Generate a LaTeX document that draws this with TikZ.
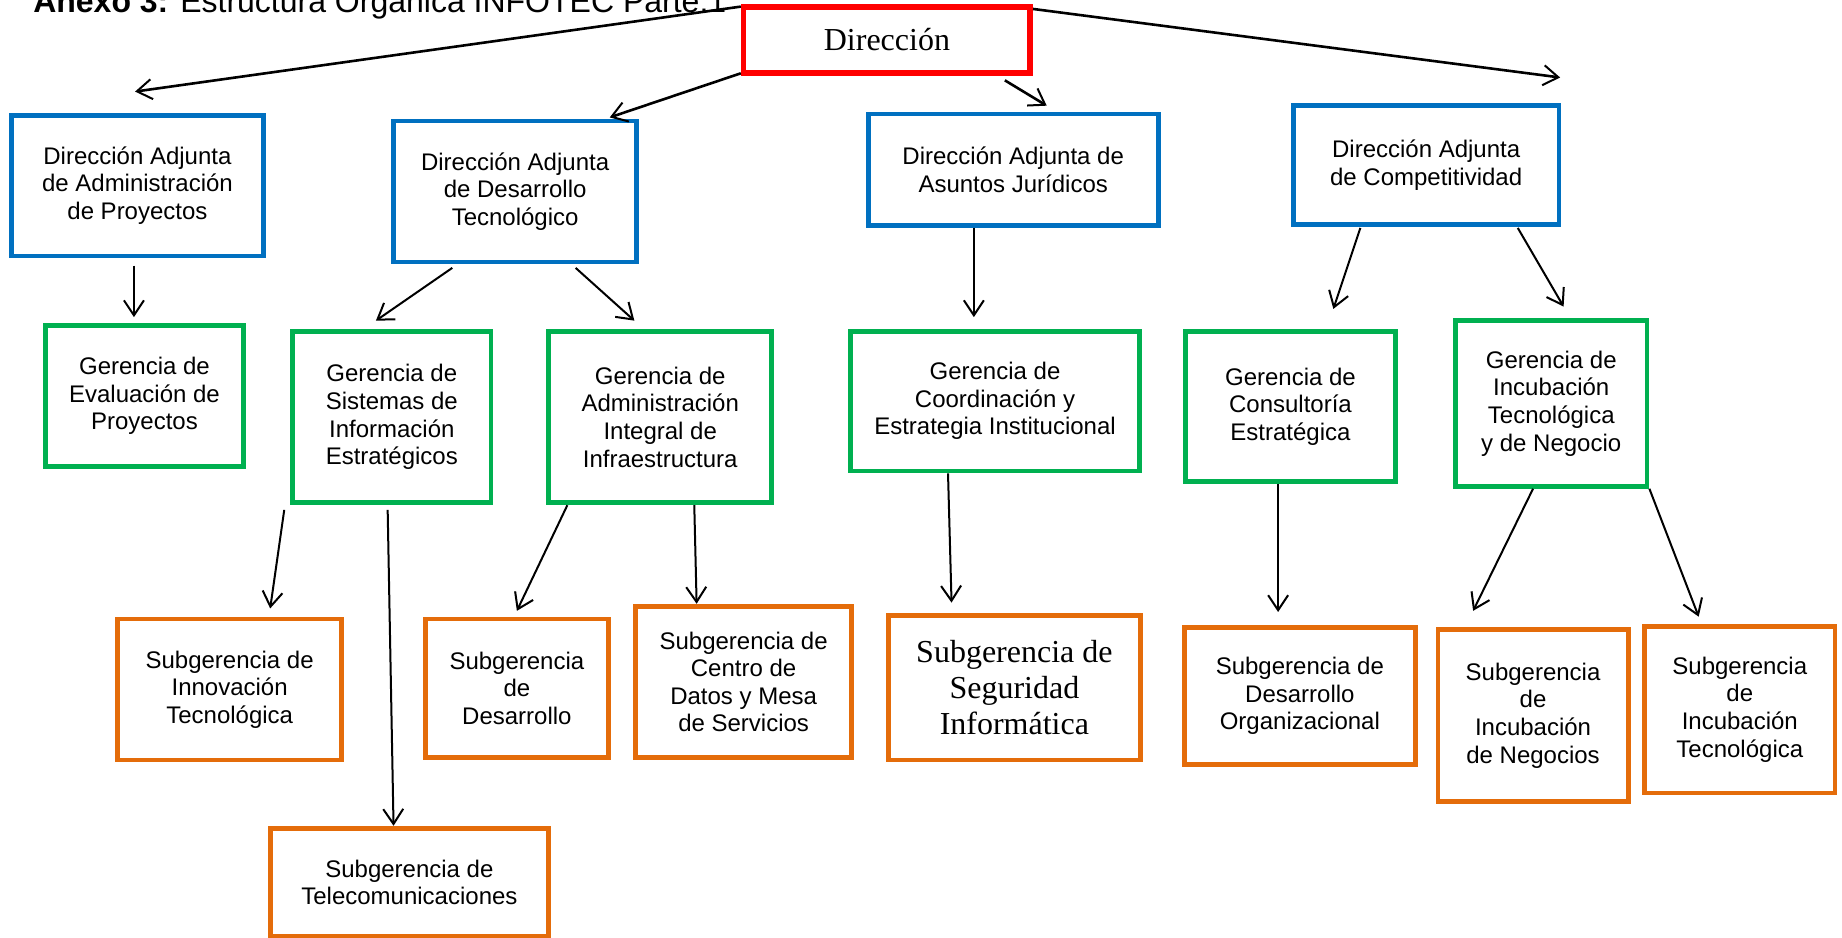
\documentclass[tikz,border=0pt]{standalone}
\usepackage{fontspec}
\setmainfont{Liberation Sans}
\newfontfamily\serifface{Liberation Serif}
\usetikzlibrary{arrows.meta}
\def\u{0.58737pt}
\definecolor{cred}{HTML}{FF0000}
\definecolor{cblue}{HTML}{0070C0}
\definecolor{cgreen}{HTML}{00B050}
\definecolor{corange}{HTML}{E46C0A}
\tikzset{
  box/.style={draw, rectangle, line width=2.4pt, align=center, inner sep=2pt,
    font=\fontsize{12}{13.8}\selectfont, text=black},
  redbox/.style={box, draw=cred, line width=2.8pt},
  bluebox/.style={box, draw=cblue},
  greenbox/.style={box, draw=cgreen},
  orangebox/.style={box, draw=corange},
  arr/.style={draw=black, line width=1pt, -{Straight Barb[length=7.5pt,width=10pt,line width=1pt]}},
  toparr/.style={arr, line width=1.3pt},
}
\begin{document}
\begin{tikzpicture}[x=\u, y=-\u]
\useasboundingbox (0,0) rectangle (1568,798);
\node[anchor=base west, inner sep=0pt, font=\fontsize{16}{19}\selectfont] (title) at (28,11) {\textbf{Anexo 3:} Estructura Orgánica INFOTEC Parte.1};

\node[redbox, minimum width=244*\u, minimum height=56*\u, font=\serifface\fontsize{16}{18}\selectfont] (dir) at (755,34) {Dirección};

\node[bluebox, minimum width=214*\u, minimum height=120*\u] (da1) at (117,158) {Dirección Adjunta\\de Administración\\de Proyectos};
\node[bluebox, minimum width=207*\u, minimum height=120*\u] (da2) at (438.5,163) {Dirección Adjunta\\de Desarrollo\\Tecnológico};
\node[bluebox, minimum width=247*\u, minimum height=95*\u] (da3) at (862.5,144.5) {Dirección Adjunta de\\Asuntos Jurídicos};
\node[bluebox, minimum width=226*\u, minimum height=101*\u] (da4) at (1214,140.5) {Dirección Adjunta\\de Competitividad};

\node[greenbox, minimum width=168*\u, minimum height=120*\u] (g1) at (123,337) {Gerencia de\\Evaluación de\\Proyectos};
\node[greenbox, minimum width=169*\u, minimum height=146*\u] (g2) at (333.5,355) {Gerencia de\\Sistemas de\\Información\\Estratégicos};
\node[greenbox, minimum width=190*\u, minimum height=146*\u] (g3) at (562,355) {Gerencia de\\Administración\\Integral de\\Infraestructura};
\node[greenbox, minimum width=246*\u, minimum height=119*\u] (g4) at (847,341.5) {Gerencia de\\Coordinación y\\Estrategia Institucional};
\node[greenbox, minimum width=179*\u, minimum height=128*\u] (g5) at (1098.5,346) {Gerencia de\\Consultoría\\Estratégica};
\node[greenbox, minimum width=163*\u, minimum height=141*\u] (g6) at (1320.5,343.5) {Gerencia de\\Incubación\\Tecnológica\\y de Negocio};

\node[orangebox, minimum width=191*\u, minimum height=120*\u] (s1) at (195.5,587) {Subgerencia de\\Innovación\\Tecnológica};
\node[orangebox, minimum width=237*\u, minimum height=92*\u] (s2) at (348.5,751) {Subgerencia de\\Telecomunicaciones};
\node[orangebox, minimum width=156*\u, minimum height=118*\u] (s3) at (440,586) {Subgerencia\\de\\Desarrollo};
\node[orangebox, minimum width=184*\u, minimum height=129*\u] (s4) at (633,580.5) {Subgerencia de\\Centro de\\Datos y Mesa\\de Servicios};
\node[orangebox, minimum width=215*\u, minimum height=123*\u, font=\serifface\fontsize{16}{18}\selectfont] (s5) at (863.5,585.5) {Subgerencia de\\Seguridad\\Informática};
\node[orangebox, minimum width=197*\u, minimum height=117*\u] (s6) at (1106.5,592.5) {Subgerencia de\\Desarrollo\\Organizacional};
\node[orangebox, minimum width=162*\u, minimum height=146*\u] (s7) at (1305,609) {Subgerencia\\de\\Incubación\\de Negocios};
\node[orangebox, minimum width=162*\u, minimum height=142*\u] (s8) at (1481,604) {Subgerencia\\de\\Incubación\\Tecnológica};

% arrows from Direccion
\draw[toparr] ([yshift=-2*\u]dir.north west) -- ([xshift=-2*\u, yshift=18*\u]da1.north);
\draw[toparr] ([yshift=2*\u]dir.south west) -- ([xshift=-25*\u, yshift=1*\u]da2.north east);
\draw[toparr] ([xshift=-24*\u, yshift=-4*\u]dir.south east) -- ([xshift=28.5*\u, yshift=5*\u]da3.north);
\draw[toparr] ([yshift=-4*\u]dir.north east) -- ([xshift=-1*\u, yshift=22*\u]da4.north east);

% second level
\draw[arr] ([xshift=-3*\u, yshift=-6*\u]da1.south) -- ([xshift=-9*\u, yshift=5*\u]g1.north);
\draw[arr] ([xshift=-53.5*\u, yshift=-3*\u]da2.south) -- ([xshift=-13.5*\u, yshift=7*\u]g2.north);
\draw[arr] ([xshift=51.5*\u, yshift=-3*\u]da2.south) -- ([xshift=-22*\u, yshift=7*\u]g3.north);
\draw[arr] ([xshift=-33.5*\u]da3.south) -- ([xshift=-18*\u, yshift=10*\u]g4.north);
\draw[arr] ([xshift=-56*\u, yshift=-1*\u]da4.south) -- ([xshift=36.5*\u, yshift=17*\u]g5.north);
\draw[arr] ([xshift=78*\u, yshift=-1*\u]da4.south) -- ([xshift=10.5*\u, yshift=10*\u]g6.north);

% third level
\draw[arr] ([xshift=-5*\u, yshift=-4*\u]g2.south west) -- ([xshift=34.5*\u, yshift=7*\u]s1.north);
\draw[arr] ([xshift=-3.5*\u, yshift=-4*\u]g2.south) -- ([xshift=-13.5*\u]s2.north);
\draw[arr] ([xshift=18*\u]g3.south west) -- ([yshift=5*\u]s3.north);
\draw[arr] ([xshift=29*\u]g3.south) -- ([xshift=-40*\u]s4.north);
\draw[arr] ([xshift=-40*\u]g4.south) -- ([xshift=-53.5*\u, yshift=9*\u]s5.north);
\draw[arr] ([xshift=-10.5*\u]g5.south) -- ([xshift=-18.5*\u, yshift=11*\u]s6.north);
\draw[arr] ([xshift=-15.5*\u]g6.south) -- ([xshift=-51*\u, yshift=14*\u]s7.north);
\draw[arr] (g6.south east) -- ([xshift=-35*\u, yshift=6*\u]s8.north);
\end{tikzpicture}
\end{document}
